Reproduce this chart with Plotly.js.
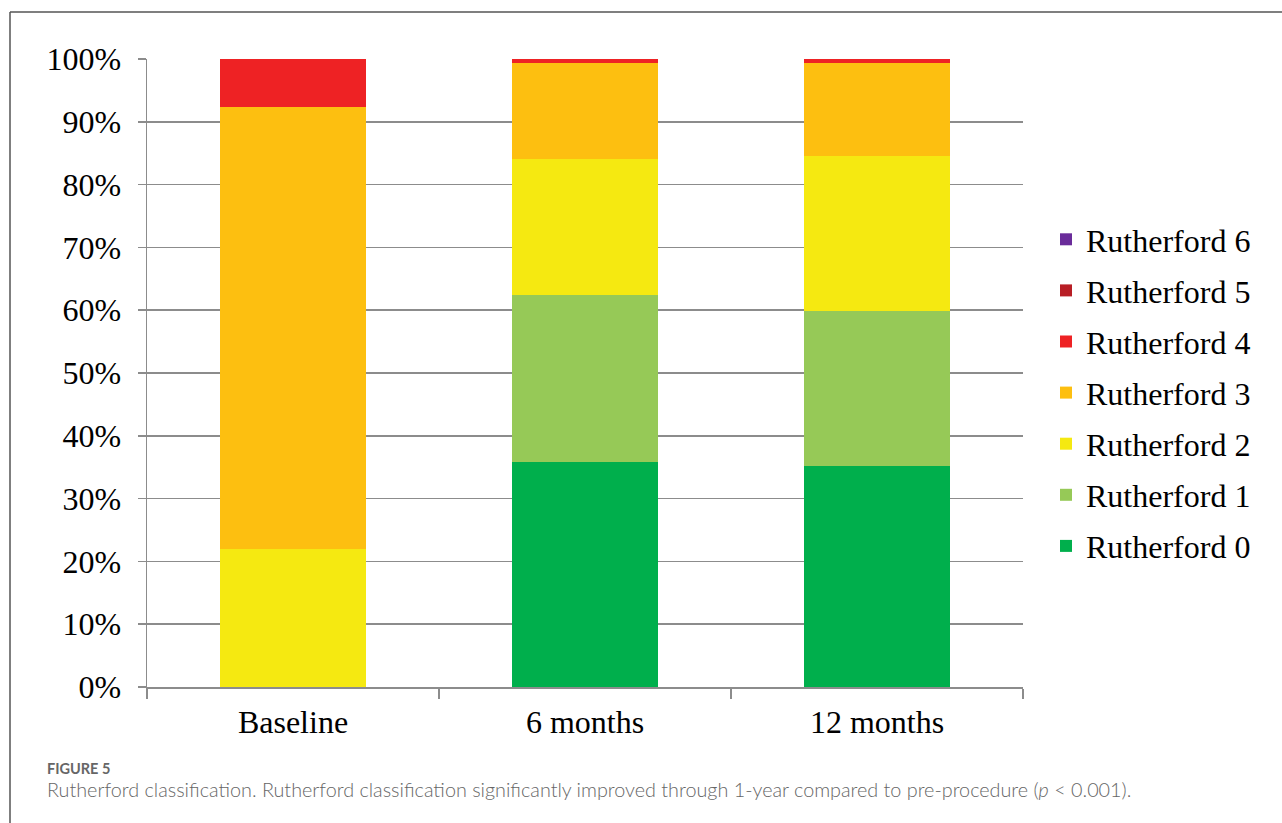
<!DOCTYPE html>
<html>
<head>
<meta charset="utf-8">
<script src="https://cdn.plot.ly/plotly-3.0.1.min.js"></script>
<style>
html,body{margin:0;padding:0;background:#fff;}
#chart{width:1282px;height:823px;}
</style>
</head>
<body>
<div id="chart"></div>
<script>
// ---- data (percent of patients) ----
const categories = ["Baseline", "6 months", "12 months"];
const seriesNames = ["Rutherford 0", "Rutherford 1", "Rutherford 2", "Rutherford 3", "Rutherford 4", "Rutherford 5", "Rutherford 6"];
const r0 = [0, 35.8, 35.2];
const r1 = [0, 26.6, 24.7];
const r2 = [22.0, 21.6, 24.6];
const r3 = [70.3, 15.4, 14.9];
const r4 = [7.7, 0.6, 0.6];
const r5 = [0, 0, 0];
const r6 = [0, 0, 0];
const yTickVals = [0, 10, 20, 30, 40, 50, 60, 70, 80, 90, 100];
const yTickText = ["0%", "10%", "20%", "30%", "40%", "50%", "60%", "70%", "80%", "90%", "100%"];

const seriesValues = [r0, r1, r2, r3, r4, r5, r6];
const colors = ["#00AF4C", "#96C957", "#F5E911", "#FDBF10", "#EE2224", "#B81E25", "#6A2C9A"];

const traces = seriesNames.map((name, i) => ({
  type: "bar",
  name: name,
  legendgroup: "g" + i,
  legendrank: 100 - i,
  x: categories,
  y: seriesValues[i],
  marker: {color: colors[i], line: {width: 0}},
  hoverinfo: "x+y+name"
}));

const W = 1282, H = 823;
const L = 147, R = 1023, T = 59, B = 687;
const pw = R - L, ph = B - T;
const px = v => (v - L) / pw;
const py = v => (B - v) / ph;

const serif = "Liberation Serif, Times New Roman, serif";
const sans = "Lato, Open Sans, sans-serif";
const gray = "#8c8c8c";

const layout = {
  width: W, height: H,
  margin: {l: L, r: W - R, t: T, b: H - B, pad: 0},
  paper_bgcolor: "#fff",
  plot_bgcolor: "#fff",
  barmode: "stack",
  bargap: 0.5,
  showlegend: true,
  font: {family: serif, size: 32, color: "#000"},
  xaxis: {
    type: "category",
    showgrid: false,
    showline: true,
    linecolor: gray,
    linewidth: 1.5,
    ticks: "outside",
    tickson: "boundaries",
    ticklen: 10,
    tickcolor: gray,
    tickwidth: 1.5,
    ticklabelstandoff: 6,
    tickfont: {family: serif, size: 32, color: "#000"},
    fixedrange: true
  },
  yaxis: {
    range: [0, 100],
    tickvals: yTickVals,
    ticktext: yTickText,
    showgrid: true,
    gridcolor: gray,
    gridwidth: 1.5,
    showline: true,
    linecolor: gray,
    linewidth: 1.5,
    ticks: "outside",
    ticklen: 8,
    tickcolor: gray,
    tickwidth: 1.5,
    ticklabelstandoff: 10,
    zeroline: false,
    tickfont: {family: serif, size: 32, color: "#000"},
    fixedrange: true
  },
  legend: {
    traceorder: "grouped",
    x: px(1046), xanchor: "left",
    y: py(393), yanchor: "middle",
    font: {family: serif, size: 32, color: "#000"},
    bgcolor: "rgba(0,0,0,0)",
    tracegroupgap: 6.5,
    itemwidth: 30
  },
  shapes: [
    {type: "line", xref: "paper", yref: "paper", x0: px(10), x1: px(10), y0: py(12), y1: py(830), line: {color: "#555", width: 1.5}},
    {type: "line", xref: "paper", yref: "paper", x0: px(10), x1: px(1290), y0: py(12), y1: py(12), line: {color: "#555", width: 1.5}}
  ],
  annotations: [
    {xref: "paper", yref: "paper", x: px(45), y: py(768), xanchor: "left", yanchor: "middle", showarrow: false,
     text: "FIGURE 5", font: {family: sans, size: 14.5, color: "#666", weight: 700}},
    {xref: "paper", yref: "paper", x: px(45), y: py(789), xanchor: "left", yanchor: "middle", showarrow: false,
     text: "Rutherford classification. Rutherford classification significantly improved through 1-year compared to pre-procedure (<i>p</i> &lt; 0.001).",
     font: {family: sans, size: 19.8, color: "#666", weight: 300}}
  ]
};

Plotly.newPlot("chart", traces, layout, {displayModeBar: false, staticPlot: true});
</script>
</body>
</html>
